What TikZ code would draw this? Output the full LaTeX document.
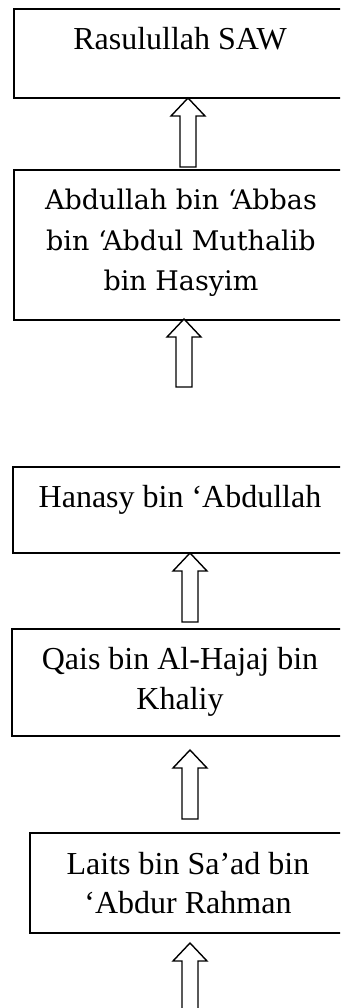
\documentclass[tikz,border=0pt]{standalone}
\usepackage{fontspec}
\setmainfont{Liberation Serif}
\newfontfamily\cambriafont{DejaVu Serif}
\begin{document}
\begin{tikzpicture}[x=1pt,y=-1pt,
  box/.style={draw, line width=1.3pt, inner sep=0pt, outer sep=0pt, anchor=north west},
  lbl/.style={anchor=base, inner sep=0pt, font=\fontsize{32}{40}\selectfont},
  lblc/.style={anchor=base, inner sep=0pt, font=\cambriafont\fontsize{27}{40}\selectfont},
  blk/.style={draw, line width=1.4pt, fill=white, line join=miter}]
\useasboundingbox (0,0) rectangle (340,1008);
\clip (0,0) rectangle (340,1008);
% boxes
\node[box, minimum width=332pt, minimum height=89pt]  (b1) at (14,9) {};
\node[box, minimum width=332pt, minimum height=150pt] (b2) at (14,170) {};
\node[box, minimum width=333pt, minimum height=86pt]  (b3) at (13,467) {};
\node[box, minimum width=334pt, minimum height=107pt] (b4) at (12,629) {};
\node[box, minimum width=316pt, minimum height=100pt] (b5) at (30,833) {};
% texts
\node[lbl] (t1) at (180,50) {Rasulullah SAW};
\node[lblc] (t2a) at (181,210) {Abdullah bin ‘Abbas};
\node[lblc] (t2b) at (181,251) {bin ‘Abdul Muthalib};
\node[lblc] (t2c) at (181,290) {bin Hasyim};
\node[lbl] (t3) at (180,507) {Hanasy bin ‘Abdullah};
\node[lbl] (t4a) at (180,669) {Qais bin Al-Hajaj bin};
\node[lbl] (t4b) at (180,709) {Khaliy};
\node[lbl] (t5a) at (188,874) {Laits bin Sa’ad bin};
\node[lbl] (t5b) at (188,913) {‘Abdur Rahman};
% block arrows
\coordinate (a1) at (188,98);
\coordinate (a2) at (184,319);
\coordinate (a3) at (190,553);
\coordinate (a4) at (190,750);
\coordinate (a5) at (190,943);
\draw[blk] (a1) -- ++(17,18) -- ++(-9,0) -- ++(0,51) -- ++(-16,0) -- ++(0,-51) -- ++(-9,0) -- cycle;
\draw[blk] (a2) -- ++(17,18) -- ++(-9,0) -- ++(0,50) -- ++(-16,0) -- ++(0,-50) -- ++(-9,0) -- cycle;
\draw[blk] (a3) -- ++(17,18) -- ++(-9,0) -- ++(0,51) -- ++(-16,0) -- ++(0,-51) -- ++(-9,0) -- cycle;
\draw[blk] (a4) -- ++(17,18) -- ++(-9,0) -- ++(0,51) -- ++(-16,0) -- ++(0,-51) -- ++(-9,0) -- cycle;
\draw[blk] (a5) -- ++(17,18) -- ++(-9,0) -- ++(0,60) -- ++(-16,0) -- ++(0,-60) -- ++(-9,0) -- cycle;
\end{tikzpicture}
\end{document}
